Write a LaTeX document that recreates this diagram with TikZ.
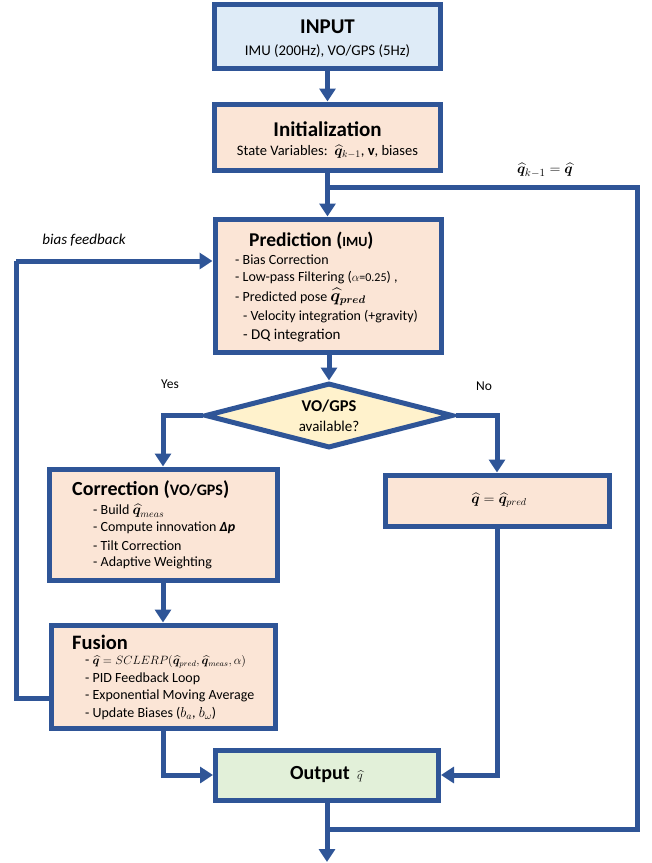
\documentclass[tikz,border=0pt]{standalone}
\usepackage{fontspec}
\usepackage{amsmath}
\usepackage{bm}
\setmainfont{Carlito}
\usetikzlibrary{arrows.meta,shapes.geometric}
\definecolor{lblue}{HTML}{2F5597}
\definecolor{fblue}{HTML}{DEEBF7}
\definecolor{fpeach}{HTML}{FBE5D6}
\definecolor{fgreen}{HTML}{E2F0D9}
\definecolor{fyellow}{HTML}{FFF2CC}
\newcommand{\fs}[1]{\fontsize{#1}{#1}\selectfont}
\newcommand{\qh}{\widehat{\bm{q}}}
\tikzset{
  box/.style={draw=lblue,line width=5pt,inner sep=0pt},
  conn/.style={draw=lblue,line width=5pt},
  arr/.style={conn,-{Triangle[width=16pt,length=13pt]}},
  txt/.style={inner sep=0pt,anchor=west},
  ctxt/.style={inner sep=0pt,align=center}
}
\begin{document}
\begin{tikzpicture}[x=1pt,y=-1pt]
\useasboundingbox (0,0) rectangle (652,863);
% boxes
\node[box,fill=fblue,minimum width=226,minimum height=64.5] (input) at (327.5,36.25) {};
\node[box,fill=fpeach,minimum width=226,minimum height=66] (init) at (327.5,137) {};
\node[box,fill=fpeach,minimum width=226,minimum height=133] (pred) at (328,285.5) {};
\node[box,fill=fyellow,diamond,aspect=3.8,minimum width=248,minimum height=65] (dia) at (329,415.5) {};
\node[box,fill=fpeach,minimum width=228,minimum height=111] (corr) at (163,524.5) {};
\node[box,fill=fpeach,minimum width=224,minimum height=51] (nob) at (497,500.5) {};
\node[box,fill=fpeach,minimum width=224,minimum height=103] (fus) at (163,676.5) {};
\node[box,fill=fgreen,minimum width=223,minimum height=50] (out) at (327,775) {};
% texts
\node[ctxt] (tin) at (327.5,27) {\fs{21}\bfseries INPUT};
\node[ctxt] (tin2) at (327.5,51) {\fs{14.8}IMU (200Hz), VO/GPS (5Hz)};
\node[ctxt] (tinit) at (327.5,129) {\fs{21}\bfseries Initialization};
\node[ctxt] (tinit2) at (327.5,152) {\fs{14.5}State Variables:\ \ $\qh_{k-1}$, \textbf{v}, biases};
\node[txt] (tp) at (249,241) {\fs{19.5}\bfseries Prediction ({\fs{14}IMU})};
\node[txt] (tp1) at (235,260) {\fs{14}- Bias Correction};
\node[txt] (tp2) at (235,278) {\fs{14}- Low-pass Filtering ({\fs{12}$\alpha$=0.25}) ,};
\node[txt] (tp3) at (235,297) {\fs{14}- Predicted pose {\fs{16}$\bm{\widehat{q}_{pred}}$}};
\node[txt] (tp4) at (243,317) {\fs{14}- Velocity integration (+gravity)};
\node[txt] (tp5) at (243,336) {\fs{15}- DQ integration};
\node[ctxt] (td) at (329,406) {\fs{16.5}\bfseries VO/GPS};
\node[ctxt] (td2) at (329,426) {\fs{15}available?};
\node[txt] (tc) at (72,490) {\fs{20}\bfseries Correction ({\fs{16}VO/GPS})};
\node[txt] (tc1) at (93,511) {\fs{14}- Build $\qh_{meas}$};
\node[txt] (tc2) at (93,528) {\fs{14}- Compute innovation \textbf{\textit{Δp}}};
\node[txt] (tc3) at (93,546) {\fs{14}- Tilt Correction};
\node[txt] (tc4) at (93,563) {\fs{14}- Adaptive Weighting};
\node[ctxt] (tn) at (499,500.5) {\fs{14}$\qh=\qh_{pred}$};
\node[txt] (tf) at (72,642) {\fs{20.5}\bfseries Fusion};
\node[txt] (tf1) at (85,662) {\fs{14}- {\fs{12}$\qh=SCLERP(\qh_{pred},\qh_{meas},\alpha)$}};
\node[txt] (tf2) at (85,679) {\fs{14}- PID Feedback Loop};
\node[txt] (tf3) at (85,696) {\fs{14}- Exponential Moving Average};
\node[txt] (tf4) at (85,713) {\fs{14}- Update Biases ($b_a$, $b_\omega$)};
\node[txt] (to) at (290,775) {\fs{20}\bfseries Output};
\node[txt] (toq) at (357,776) {\fs{13}$\widehat{q}$};
\node[ctxt] (tyes) at (170,384) {\fs{13.5}Yes};
\node[ctxt] (tno) at (484,386) {\fs{13.5}No};
\node[ctxt] (tbias) at (84,240) {\fs{15}$\mathit{bias\ feedback}$};
\node[ctxt] (tloop) at (545,170) {\fs{15}$\qh_{k-1}=\qh$};
% connectors
\draw[arr] (input.south) -- (init.south |- init.north);
\draw[arr] (init.south) -- (pred.north -| init.south);
\draw[arr] (pred.south -| dia.north) -- (dia.north);
\draw[arr] (dia.west) -| (corr.north);
\draw[arr] (dia.east) -| (nob.north);
\draw[arr] (corr.south) -- (fus.north);
\draw[arr] (fus.south) |- (out.west);
\draw[arr] (nob.south) |- (out.east);
\coordinate (ob) at (327,829);
\coordinate (oe) at (327,862);
\coordinate (rb) at (637,829);
\coordinate (rt) at (637,187);
\coordinate (jt) at (327,187);
\draw[arr] (out.south) -- (oe);
\draw[conn,line join=miter] (ob) -- (rb) -- (rt) -- (jt);
\coordinate (fb) at (51,698);
\coordinate (lb) at (16,698);
\coordinate (lt) at (16,261);
\draw[conn,line join=miter] (fb) -- (lb) -- (lt);
\draw[arr] (lt) -- (lt -| pred.west);
\end{tikzpicture}
\end{document}
